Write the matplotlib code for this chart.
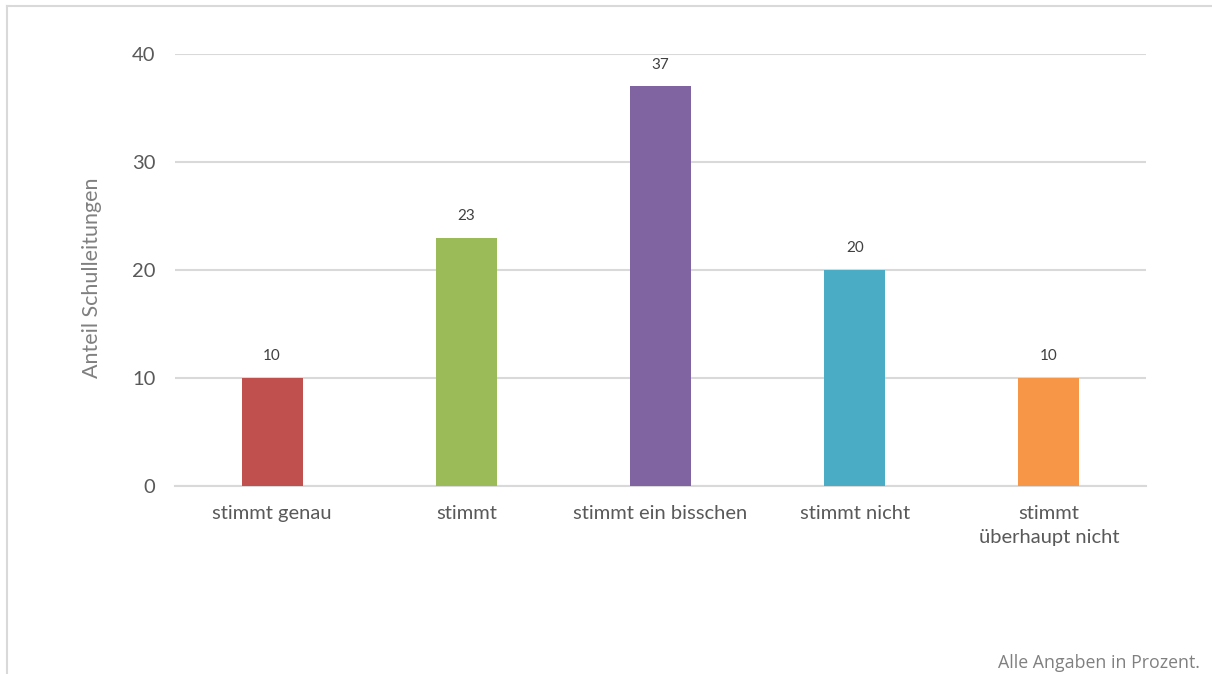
import matplotlib.pyplot as plt
from matplotlib.lines import Line2D

categories = ["stimmt genau", "stimmt", "stimmt ein bisschen", "stimmt nicht", "stimmt\nüberhaupt nicht"]
values = [10, 23, 37, 20, 10]
colors = ["#C0504D", "#9BBB59", "#8064A2", "#4BACC6", "#F79646"]
yticks = [0, 10, 20, 30, 40]

plt.rcParams["font.family"] = ["Lato", "DejaVu Sans"]

fig = plt.figure(figsize=(12.12, 6.74), dpi=100)
ax = fig.add_axes([175 / 1212, 1 - 486 / 674, 971 / 1212, 432 / 674])

x = range(len(categories))
ax.bar(x, values, width=0.314, color=colors, zorder=3)
for xi, v in zip(x, values):
    ax.text(xi, v + 2.0, str(v), ha="center", va="center", fontsize=11, color="#404040")

ax.set_xlim(-0.5, 4.5)
ax.set_ylim(0, 40)
ax.set_yticks(yticks)
ax.set_xticks(list(x))
ax.set_xticklabels(categories, fontsize=14.5, color="#595959", linespacing=1.45)
ax.tick_params(axis="y", labelsize=14.5, labelcolor="#595959", length=0, pad=14)
ax.tick_params(axis="x", length=0, pad=14)
ax.yaxis.grid(True, color="#D9D9D9", linewidth=1.5, zorder=0)
for s in ["top", "right", "left"]:
    ax.spines[s].set_visible(False)
ax.spines["bottom"].set_color("#D9D9D9")
ax.spines["bottom"].set_linewidth(1.5)
ax.set_ylabel("Anteil Schulleitungen", fontsize=15.5, color="#808080")
ax.yaxis.set_label_coords(-0.0756, 0.482)

# outer frame lines (top and left)
fig.add_artist(Line2D([7 / 1212, 1], [1 - 6 / 674, 1 - 6 / 674], transform=fig.transFigure, color="#D9D9D9", linewidth=1.5))
fig.add_artist(Line2D([7 / 1212, 7 / 1212], [0, 1 - 6 / 674], transform=fig.transFigure, color="#D9D9D9", linewidth=1.5))

fig.text(1200 / 1212, 1 - 663 / 674, "Alle Angaben in Prozent.", ha="right", va="center",
         fontsize=12.8, color="#808080", family=["Open Sans", "DejaVu Sans"])

fig.savefig("out.png", dpi=100)
